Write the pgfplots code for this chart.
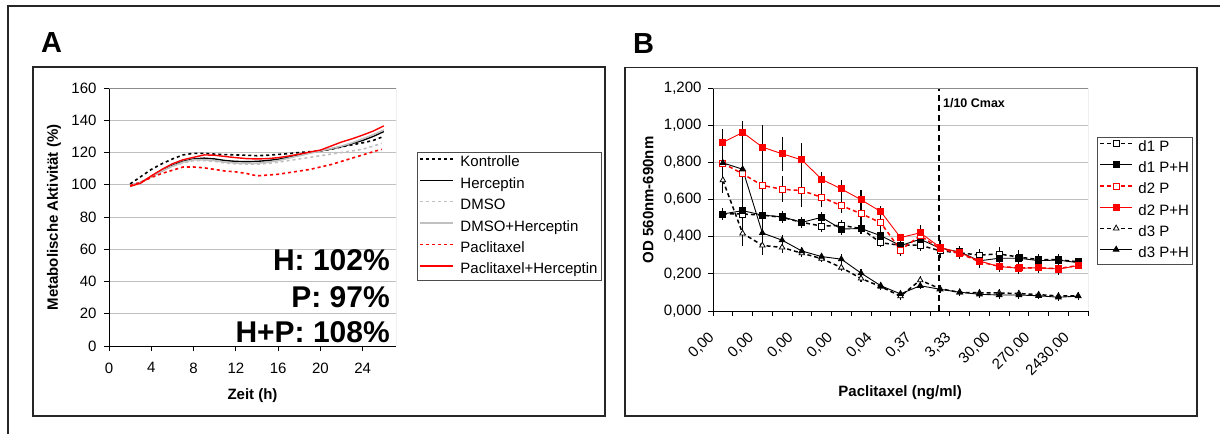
\documentclass[border=0pt]{standalone}
\usepackage{fontspec}
\setmainfont{Liberation Sans}
\usepackage{pgfplots}
\pgfplotsset{compat=1.18}
\usepackage{pgfplotstable}
\newcommand{\fs}{\fontsize{15}{18}\selectfont}
\definecolor{xgray}{RGB}{192,192,192}
\definecolor{xred}{RGB}{255,0,0}

\pgfplotstableread{
x y e
0 0.522 0.03
1 0.522 0.03
2 0.516 0.03
3 0.504 0.03
4 0.477 0.03
5 0.457 0.03
6 0.461 0.03
7 0.444 0.03
8 0.367 0.02
9 0.354 0.03
10 0.354 0.03
11 0.324 0.04
12 0.313 0.03
13 0.301 0.03
14 0.307 0.04
15 0.290 0.04
16 0.277 0.03
17 0.276 0.03
18 0.265 0.02
}\dOneP
\pgfplotstableread{
x y e
0 0.522 0.03
1 0.540 0.03
2 0.516 0.03
3 0.507 0.03
4 0.477 0.03
5 0.504 0.03
6 0.441 0.03
7 0.444 0.03
8 0.405 0.04
9 0.352 0.03
10 0.386 0.04
11 0.338 0.03
12 0.318 0.03
13 0.270 0.03
14 0.284 0.04
15 0.284 0.035
16 0.271 0.03
17 0.274 0.03
18 0.260 0.02
}\dOnePH
\pgfplotstableread{
x y e
0 0.795 0.16
1 0.738 0.28
2 0.676 0.32
3 0.655 0.07
4 0.648 0.09
5 0.612 0.055
6 0.567 0.04
7 0.524 0.05
8 0.475 0.05
9 0.328 0.03
10 0.405 0.03
11 0.335 0.03
12 0.310 0.03
13 0.265 0.03
14 0.240 0.03
15 0.232 0.03
16 0.232 0.03
17 0.228 0.03
18 0.245 0.02
}\dTwoP
\pgfplotstableread{
x y e
0 0.907 0.07
1 0.961 0.06
2 0.882 0.12
3 0.846 0.09
4 0.813 0.09
5 0.709 0.04
6 0.657 0.048
7 0.599 0.05
8 0.535 0.03
9 0.395 0.02
10 0.421 0.04
11 0.343 0.04
12 0.314 0.03
13 0.269 0.035
14 0.239 0.03
15 0.230 0.03
16 0.233 0.03
17 0.226 0.03
18 0.244 0.02
}\dTwoPH
\pgfplotstableread{
x y e
0 0.704 0.02
1 0.418 0.07
2 0.353 0.05
3 0.342 0.03
4 0.311 0.02
5 0.282 0.02
6 0.234 0.02
7 0.175 0.02
8 0.131 0.02
9 0.080 0.02
10 0.166 0.02
11 0.120 0.02
12 0.100 0.02
13 0.098 0.02
14 0.097 0.02
15 0.094 0.02
16 0.088 0.02
17 0.081 0.02
18 0.081 0.02
}\dThreeP
\pgfplotstableread{
x y e
0 0.797 0.16
1 0.763 0.02
2 0.420 0.06
3 0.381 0.03
4 0.323 0.02
5 0.293 0.02
6 0.279 0.03
7 0.204 0.02
8 0.136 0.02
9 0.092 0.02
10 0.136 0.02
11 0.117 0.02
12 0.101 0.02
13 0.090 0.02
14 0.086 0.02
15 0.086 0.02
16 0.082 0.02
17 0.074 0.02
18 0.080 0.02
}\dThreePH

\pgfplotsset{
  excel/.style={
    scale only axis,
    anchor=south west,
    axis x line*=bottom, axis y line*=left,
    axis line style={black, line width=0.8pt},
    tick align=outside,
    major tick length=5pt,
    tick style={black, line width=0.8pt},
    ymajorgrids,
    major grid style={xgray, line width=0.8pt},
    tick label style={font=\fs},
    label style={font=\fs\bfseries},
    /pgf/number format/assume math mode=true,
    legend cell align=left,
  },
}

\begin{document}
\begin{tikzpicture}
\useasboundingbox (0,0) rectangle (1220pt,434pt);
\fill[white] (0,0) rectangle (1220pt,434pt);

% ---------------- Panel A ----------------
\begin{axis}[excel,
  at={(109pt,88pt)}, width=287pt, height=258pt,
  xmin=0, xmax=27.15, ymin=0, ymax=160,
  xtick={0,4,...,24}, ytick={0,20,...,160},
  xticklabel style={yshift=-8pt},
  yticklabel style={xshift=-4pt},
  xlabel={Zeit (h)},
  ylabel={Metabolische Aktivität (\%)},
  xlabel style={at={(axis description cs:0.5,-0.194)}, anchor=center},
  ylabel style={at={(axis description cs:-0.192,0.498)}, anchor=center, rotate=0},
  legend style={at={(axis description cs:1.073,0.752)}, anchor=north west,
    draw=black!70, line width=0.8pt, font=\fs, row sep=4.4pt, inner sep=2pt,
    nodes={inner sep=1.5pt, text height=11pt, text depth=3pt}},
  legend image code/.code={\draw[#1] (0pt,4pt) -- (33pt,4pt); \path (38pt,4pt);},
]
\addplot[black, line width=1.6pt, dash pattern=on 3pt off 3pt] coordinates {
(2,100.5) (3,105) (4,109.5) (5,113) (6,116) (7,118.5) (8,119.5) (9,119.5) (10,119) (11,118.7) (12,118.5) (13,118.3) (14,118) (15,118.3) (16,118.8) (17,119.3) (18,120) (19,120.5) (20,121) (21,122) (22,123.5) (23,124.8) (24,126) (25,127.5) (25.8,129.5)};
\addlegendentry{Kontrolle}
\addplot[black, line width=1.4pt] coordinates {
(2,99.5) (3,101.5) (4,105) (5,108.5) (6,112) (7,114.5) (8,116) (9,116.5) (10,116) (11,115) (12,114.5) (13,114.3) (14,114.5) (15,115) (16,115.8) (17,117) (18,118.5) (19,120) (20,121) (21,122.3) (22,123.6) (23,125.5) (24,127.5) (25,130) (26,133)};
\addlegendentry{Herceptin}
\addplot[xgray, line width=1.6pt, dash pattern=on 3pt off 3pt] coordinates {
(2,99.5) (3,101.5) (4,105) (5,108.5) (6,111.5) (7,113.5) (8,115) (9,115) (10,114.5) (11,113.5) (12,113) (13,112.8) (14,112.8) (15,113.2) (16,114) (17,115) (18,116) (19,117) (20,118) (21,119) (22,120) (23,121) (24,122) (25,124) (25.8,125.7)};
\addlegendentry{DMSO}
\addplot[xgray, line width=1.6pt] coordinates {
(2,99.5) (3,101.5) (4,105) (5,108.5) (6,111.5) (7,114) (8,115.5) (9,115.5) (10,115) (11,114) (12,113.5) (13,113.2) (14,113.3) (15,114) (16,115) (17,116.5) (18,118) (19,119.5) (20,121) (21,122.5) (22,124) (23,126) (24,128.5) (25,131) (26,134)};
\addlegendentry{DMSO+Herceptin}
\addplot[xred, line width=1.6pt, dash pattern=on 3pt off 3pt] coordinates {
(2,99.5) (3,101.5) (4,104.5) (5,107) (6,109) (7,111) (8,111) (9,110.5) (10,109.5) (11,108.5) (12,108) (13,107) (14,105.5) (15,106) (16,106.5) (17,107.5) (18,108.5) (19,109.5) (20,111) (21,112.5) (22,114.5) (23,116.5) (24,118.5) (25,120.5) (25.8,122)};
\addlegendentry{Paclitaxel}
\addplot[xred, line width=1.4pt] coordinates {
(2,99) (3,101) (4,105.5) (5,109.5) (6,113) (7,115.5) (8,117) (9,118.5) (10,118.3) (11,117.5) (12,116.8) (13,116.2) (14,116) (15,116.2) (16,116.8) (17,117.8) (18,119) (19,120.3) (20,121.5) (21,124) (22,126.5) (23,128.5) (24,130.8) (25,133.3) (26,136.5)};
\addlegendentry{Paclitaxel+Herceptin}
\draw[black!45, line width=0.8pt] (rel axis cs:0,1) -- (rel axis cs:1,1) -- (rel axis cs:1,0);
\node[anchor=base east, inner sep=0pt, font=\fontsize{30}{30}\selectfont\bfseries] at (axis description cs:0.979,0.292) {H: 102\%};
\node[anchor=base east, inner sep=0pt, font=\fontsize{30}{30}\selectfont\bfseries] at (axis description cs:0.979,0.151) {P: 97\%};
\node[anchor=base east, inner sep=0pt, font=\fontsize{30}{30}\selectfont\bfseries] at (axis description cs:0.979,0.012) {H+P: 108\%};
\end{axis}

% ---------------- Panel B ----------------
\begin{axis}[excel,
  at={(713pt,123pt)}, width=375pt, height=223pt,
  xmin=-0.5, xmax=18.5, ymin=0, ymax=1.2,
  ytick={0,0.2,...,1.2},
  yticklabel style={xshift=-3pt, /pgf/number format/.cd, fixed, fixed zerofill, precision=3, use comma, 1000 sep={}},
  xtick={-0.5,0.5,...,18.5}, xticklabels={},
  extra x ticks={0,2,...,18},
  extra x tick labels={{0,00},{0,00},{0,00},{0,00},{0,04},{0,37},{3,33},{30,00},{270,00},{2430,00}},
  extra x tick style={major tick length=0pt, grid=none,
     tick label style={xshift=-11pt, yshift=-24pt, rotate=45, anchor=east, inner sep=0pt}},
  xlabel={Paclitaxel (ng/ml)},
  ylabel={OD 560nm-690nm},
  xlabel style={at={(axis description cs:0.499,-0.368)}, anchor=center},
  ylabel style={at={(axis description cs:-0.173,0.498)}, anchor=center, rotate=0},
  legend style={at={(axis description cs:1.024,0.782)}, anchor=north west,
    draw=black!70, line width=0.8pt, font=\fs, row sep=4.2pt, inner sep=2pt,
    nodes={inner sep=1.5pt, text height=11pt, text depth=3pt}},
  legend image code/.code={\draw[mark repeat=2, mark phase=2, #1] plot coordinates {(0pt,4pt) (16pt,4pt) (32pt,4pt)}; \path (36pt,4pt);},
  error bars/error bar style={black, line width=1.1pt, solid},
  error bars/error mark=none,
]
\addplot[black, line width=1.5pt, dash pattern=on 4pt off 3pt, mark=square*, mark size=3pt,
  mark options={solid, fill=white, draw=black, line width=0.8pt},
  error bars/.cd, y dir=both, y explicit] table[x=x, y=y, y error=e] {\dOneP};
\addlegendentry{d1 P}
\addplot[black, line width=0.9pt, mark=square*, mark size=3pt,
  mark options={solid, fill=black, draw=black},
  error bars/.cd, y dir=both, y explicit] table[x=x, y=y, y error=e] {\dOnePH};
\addlegendentry{d1 P+H}
\addplot[xred, line width=1.5pt, dash pattern=on 4pt off 3pt, mark=square*, mark size=3pt,
  mark options={solid, fill=white, draw=xred, line width=0.8pt},
  error bars/.cd, y dir=both, y explicit] table[x=x, y=y, y error=e] {\dTwoP};
\addlegendentry{d2 P}
\addplot[xred, line width=0.9pt, mark=square*, mark size=3pt,
  mark options={solid, fill=xred, draw=xred},
  error bars/.cd, y dir=both, y explicit] table[x=x, y=y, y error=e] {\dTwoPH};
\addlegendentry{d2 P+H}
\addplot[black, line width=1.5pt, dash pattern=on 4pt off 3pt, mark=triangle*, mark size=3.2pt,
  mark options={solid, fill=white, draw=black, line width=0.8pt},
  error bars/.cd, y dir=both, y explicit] table[x=x, y=y, y error=e] {\dThreeP};
\addlegendentry{d3 P}
\addplot[black, line width=0.9pt, mark=triangle*, mark size=3.2pt,
  mark options={solid, fill=black, draw=black},
  error bars/.cd, y dir=both, y explicit] table[x=x, y=y, y error=e] {\dThreePH};
\addlegendentry{d3 P+H}
\addplot[black, line width=2pt, dash pattern=on 6pt off 4pt, forget plot] coordinates {(10.95,0) (10.95,1.2)};
\draw[black!45, line width=0.8pt] (rel axis cs:0,1) -- (rel axis cs:1,1) -- (rel axis cs:1,0);
\node[anchor=west, inner sep=0pt, font=\fontsize{12.5}{14}\selectfont\bfseries] at (axis description cs:0.613,0.933) {1/10 Cmax};
\end{axis}

% ---------------- Frames and panel letters ----------------
\draw[black!85, line width=2pt] (8pt,0pt) -- (8pt,427.5pt) -- (1220pt,427.5pt);
\draw[black!85, line width=1.3pt] (33pt,18pt) rectangle (605pt,367pt);
\draw[black!85, line width=1.3pt] (625pt,18pt) rectangle (1197pt,366.5pt);
\node[anchor=base west, inner sep=0pt, font=\fontsize{29}{30}\selectfont\bfseries] at (41pt,381pt) {A};
\node[anchor=base west, inner sep=0pt, font=\fontsize{29}{30}\selectfont\bfseries] at (633pt,380pt) {B};
\end{tikzpicture}
\end{document}
